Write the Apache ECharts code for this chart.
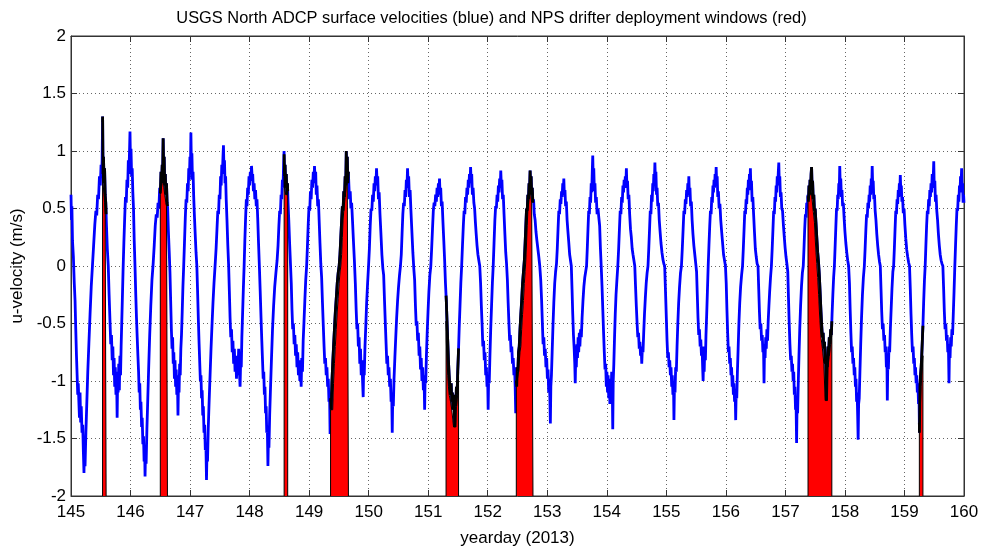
<!DOCTYPE html>
<html>
<head>
<meta charset="utf-8">
<script src="https://cdn.jsdelivr.net/npm/echarts@6/dist/echarts.min.js"></script>
<style>
html,body{margin:0;padding:0;background:#fff;}
#chart{width:983px;height:552px;}
</style>
</head>
<body>
<div id="chart"></div>
<script>
// ---- data ----
const titleText = 'USGS North ADCP surface velocities (blue) and NPS drifter deployment windows (red)';
const xName = 'yearday (2013)';
const yName = 'u-velocity (m/s)';
const xTickValues = [145,146,147,148,149,150,151,152,153,154,155,156,157,158,159,160];
const yTickValues = [-2,-1.5,-1,-0.5,0,0.5,1,1.5,2];

// drifter deployment windows [start, end] (yearday)
const deployWindows = [
  [145.53,145.59],[146.50,146.62],[148.58,148.64],[149.36,149.66],
  [151.30,151.51],[152.48,152.76],[157.38,157.78],[159.25,159.31]
];

// ADCP surface u-velocity: [yearday, m/s]
const adcpU = [
[145.000,0.62],[145.008,0.40],[145.015,0.52],[145.025,0.22],[145.040,0.08],[145.055,-0.15],[145.068,-0.30],[145.080,-0.55],
[145.092,-0.78],[145.103,-0.95],[145.113,-1.12],[145.122,-1.02],[145.132,-1.18],[145.142,-1.32],[145.152,-1.10],[145.162,-1.36],
[145.172,-1.22],[145.185,-1.45],[145.197,-1.38],[145.208,-1.62],[145.218,-1.80],[145.226,-1.58],[145.236,-1.74],[145.250,-1.45],
[145.265,-1.20],[145.282,-0.92],[145.300,-0.68],[145.320,-0.42],[145.340,-0.18],[145.360,0.00],[145.380,0.18],[145.400,0.36],
[145.418,0.48],[145.432,0.44],[145.448,0.62],[145.462,0.58],[145.478,0.78],[145.492,0.70],[145.505,0.88],[145.515,0.78],
[145.523,0.92],[145.531,1.30],[145.538,0.80],[145.546,0.95],[145.555,0.72],[145.564,0.85],[145.574,0.62],[145.584,0.55],
[145.596,0.35],[145.610,0.15],[145.626,0.00],[145.640,-0.25],[145.655,-0.48],[145.668,-0.68],[145.680,-0.60],[145.692,-0.82],
[145.703,-0.70],[145.714,-0.95],[145.724,-0.80],[145.734,-1.05],[145.744,-0.88],[145.755,-1.12],[145.765,-0.92],[145.775,-1.32],
[145.783,-1.00],[145.792,-1.10],[145.802,-0.85],[145.812,-1.08],[145.822,-0.78],[145.832,-0.95],[145.842,-0.70],[145.852,-0.50],
[145.862,-0.30],[145.874,-0.05],[145.888,0.20],[145.902,0.42],[145.915,0.60],[145.928,0.55],[145.940,0.75],[145.952,0.68],
[145.963,0.92],[145.973,0.80],[145.983,1.00],[145.991,1.17],[145.999,0.90],[146.008,1.02],[146.018,0.78],[146.028,0.85],
[146.038,0.65],[146.050,0.50],[146.062,0.22],[146.075,0.00],[146.088,-0.25],[146.100,-0.45],[146.112,-0.62],[146.124,-0.78],
[146.135,-0.92],[146.145,-1.10],[146.155,-1.02],[146.165,-1.25],[146.175,-1.18],[146.186,-1.40],[146.196,-1.32],[146.207,-1.55],
[146.218,-1.48],[146.228,-1.70],[146.238,-1.62],[146.244,-1.83],[146.252,-1.60],[146.262,-1.72],[146.275,-1.42],[146.290,-1.15],
[146.305,-0.88],[146.322,-0.60],[146.340,-0.35],[146.360,-0.12],[146.380,0.02],[146.398,0.18],[146.415,0.35],[146.432,0.45],
[146.448,0.42],[146.462,0.55],[146.476,0.50],[146.490,0.68],[146.502,0.62],[146.512,0.82],[146.522,0.72],[146.532,0.88],
[146.540,0.80],[146.548,1.11],[146.556,0.85],[146.565,0.95],[146.574,0.70],[146.584,0.80],[146.594,0.62],[146.604,0.72],
[146.614,0.55],[146.624,0.50],[146.636,0.30],[146.650,0.12],[146.662,-0.05],[146.674,-0.30],[146.686,-0.55],[146.697,-0.72],
[146.707,-0.62],[146.717,-0.85],[146.727,-0.75],[146.737,-0.98],[146.747,-0.82],[146.757,-1.05],[146.767,-0.90],[146.777,-1.12],
[146.787,-0.95],[146.797,-1.30],[146.805,-1.02],[146.815,-1.10],[146.825,-0.85],[146.835,-0.95],[146.845,-0.72],[146.856,-0.60],
[146.868,-0.40],[146.880,-0.18],[146.893,0.00],[146.906,0.20],[146.920,0.42],[146.933,0.58],[146.945,0.55],[146.957,0.72],
[146.968,0.65],[146.978,0.85],[146.988,0.75],[146.998,0.95],[147.006,0.82],[147.014,1.16],[147.022,0.88],[147.031,0.98],
[147.040,0.75],[147.050,0.82],[147.060,0.62],[147.072,0.45],[147.086,0.28],[147.100,0.12],[147.114,0.00],[147.128,-0.25],
[147.140,-0.48],[147.152,-0.68],[147.163,-0.85],[147.173,-1.00],[147.183,-0.95],[147.193,-1.15],[147.203,-1.08],[147.213,-1.30],
[147.223,-1.22],[147.234,-1.45],[147.245,-1.38],[147.256,-1.60],[147.266,-1.55],[147.276,-1.86],[147.284,-1.62],[147.293,-1.70],
[147.305,-1.42],[147.320,-1.18],[147.336,-0.95],[147.352,-0.72],[147.368,-0.52],[147.385,-0.32],[147.402,-0.15],[147.420,0.00],
[147.437,0.15],[147.452,0.32],[147.466,0.48],[147.478,0.45],[147.490,0.62],[147.502,0.58],[147.513,0.78],[147.523,0.70],
[147.533,0.88],[147.543,0.80],[147.553,0.95],[147.561,1.05],[147.569,0.85],[147.578,0.92],[147.587,0.72],[147.597,0.78],
[147.607,0.58],[147.620,0.40],[147.634,0.18],[147.648,0.00],[147.660,-0.22],[147.672,-0.45],[147.684,-0.62],[147.696,-0.55],
[147.708,-0.75],[147.720,-0.65],[147.732,-0.85],[147.744,-0.72],[147.756,-0.92],[147.768,-0.80],[147.780,-0.98],[147.792,-0.78],
[147.804,-0.95],[147.816,-0.72],[147.828,-0.90],[147.840,-1.05],[147.850,-0.82],[147.860,-0.88],[147.870,-0.62],[147.882,-0.42],
[147.895,-0.20],[147.908,0.00],[147.920,0.22],[147.933,0.42],[147.945,0.58],[147.956,0.52],[147.967,0.68],[147.978,0.62],
[147.990,0.78],[148.000,0.70],[148.012,0.82],[148.022,0.74],[148.032,0.87],[148.042,0.78],[148.052,0.80],[148.064,0.65],
[148.076,0.72],[148.088,0.58],[148.100,0.66],[148.112,0.52],[148.124,0.58],[148.136,0.42],[148.150,0.20],[148.164,0.00],
[148.178,-0.22],[148.192,-0.45],[148.205,-0.65],[148.217,-0.82],[148.228,-0.98],[148.238,-0.92],[148.248,-1.12],[148.258,-1.05],
[148.268,-1.28],[148.278,-1.22],[148.288,-1.45],[148.298,-1.40],[148.308,-1.74],[148.316,-1.50],[148.325,-1.58],[148.337,-1.30],
[148.352,-1.05],[148.368,-0.80],[148.385,-0.55],[148.403,-0.35],[148.422,-0.18],[148.442,-0.06],[148.462,0.05],[148.478,0.18],
[148.492,0.35],[148.505,0.48],[148.517,0.45],[148.529,0.62],[148.540,0.58],[148.551,0.75],[148.561,0.68],[148.571,0.88],
[148.579,1.00],[148.587,0.78],[148.596,0.88],[148.606,0.68],[148.616,0.80],[148.626,0.62],[148.636,0.72],[148.646,0.55],
[148.658,0.40],[148.672,0.20],[148.688,0.00],[148.700,-0.15],[148.712,-0.38],[148.724,-0.55],[148.736,-0.50],[148.748,-0.68],
[148.760,-0.60],[148.772,-0.78],[148.784,-0.68],[148.796,-0.88],[148.808,-0.75],[148.820,-0.95],[148.832,-0.82],[148.844,-1.00],
[148.856,-0.85],[148.866,-1.05],[148.876,-0.80],[148.888,-0.92],[148.900,-0.65],[148.914,-0.48],[148.928,-0.30],[148.943,-0.12],
[148.958,0.00],[148.972,0.18],[148.986,0.38],[148.998,0.52],[149.010,0.48],[149.022,0.65],[149.034,0.58],[149.046,0.75],
[149.058,0.68],[149.070,0.82],[149.080,0.72],[149.090,0.87],[149.100,0.76],[149.110,0.82],[149.120,0.62],[149.132,0.70],
[149.144,0.52],[149.156,0.58],[149.168,0.40],[149.182,0.20],[149.196,0.02],[149.210,-0.10],[149.224,-0.32],[149.238,-0.52],
[149.251,-0.70],[149.263,-0.85],[149.275,-0.80],[149.287,-0.95],[149.299,-0.88],[149.311,-1.05],[149.322,-0.98],[149.333,-1.18],
[149.343,-1.10],[149.352,-1.46],[149.360,-1.15],[149.370,-1.25],[149.382,-1.02],[149.396,-0.85],[149.410,-0.70],[149.425,-0.55],
[149.440,-0.40],[149.456,-0.28],[149.472,-0.15],[149.488,-0.06],[149.504,0.00],[149.518,0.10],[149.532,0.25],[149.546,0.40],
[149.558,0.52],[149.570,0.48],[149.582,0.65],[149.594,0.60],[149.605,0.78],[149.615,0.70],[149.624,1.00],[149.632,0.80],
[149.641,0.95],[149.650,0.72],[149.659,0.82],[149.668,0.70],[149.678,0.58],[149.690,0.65],[149.702,0.50],[149.714,0.55],
[149.728,0.40],[149.744,0.22],[149.760,0.05],[149.776,-0.15],[149.790,-0.38],[149.803,-0.55],[149.815,-0.50],[149.827,-0.70],
[149.839,-0.62],[149.851,-0.85],[149.863,-0.72],[149.875,-0.95],[149.887,-0.82],[149.899,-1.02],[149.908,-1.14],[149.916,-0.88],
[149.926,-0.95],[149.938,-0.70],[149.952,-0.52],[149.966,-0.32],[149.982,-0.15],[149.998,0.00],[150.012,0.15],[150.026,0.35],
[150.040,0.50],[150.053,0.48],[150.066,0.62],[150.078,0.56],[150.090,0.72],[150.101,0.65],[150.112,0.78],[150.122,0.70],
[150.132,0.85],[150.142,0.72],[150.152,0.78],[150.164,0.58],[150.176,0.64],[150.190,0.45],[150.206,0.28],[150.222,0.10],
[150.238,-0.02],[150.252,-0.08],[150.266,-0.30],[150.280,-0.50],[150.293,-0.68],[150.305,-0.85],[150.317,-0.78],[150.329,-0.95],
[150.341,-0.88],[150.353,-1.05],[150.365,-0.98],[150.377,-1.18],[150.387,-1.10],[150.396,-1.45],[150.404,-1.15],[150.414,-1.22],
[150.426,-0.98],[150.440,-0.80],[150.455,-0.62],[150.470,-0.45],[150.486,-0.30],[150.502,-0.18],[150.518,-0.08],[150.534,0.00],
[150.548,0.10],[150.561,0.28],[150.574,0.45],[150.587,0.55],[150.599,0.52],[150.611,0.66],[150.622,0.60],[150.633,0.75],
[150.643,0.68],[150.653,0.85],[150.662,0.72],[150.672,0.78],[150.684,0.60],[150.696,0.66],[150.710,0.48],[150.726,0.30],
[150.742,0.12],[150.758,-0.02],[150.772,-0.12],[150.786,-0.35],[150.799,-0.52],[150.811,-0.48],[150.823,-0.65],[150.835,-0.58],
[150.847,-0.78],[150.859,-0.70],[150.871,-0.90],[150.883,-0.80],[150.895,-1.00],[150.907,-0.88],[150.919,-1.08],[150.930,-0.95],
[150.940,-1.25],[150.948,-0.98],[150.958,-1.02],[150.970,-0.78],[150.983,-0.58],[150.997,-0.40],[151.012,-0.22],[151.028,-0.08],
[151.044,0.00],[151.058,0.15],[151.072,0.32],[151.086,0.48],[151.099,0.55],[151.112,0.52],[151.125,0.62],[151.137,0.56],
[151.149,0.68],[151.160,0.60],[151.171,0.72],[151.181,0.65],[151.190,0.76],[151.199,0.62],[151.210,0.68],[151.222,0.52],
[151.234,0.56],[151.248,0.38],[151.262,0.22],[151.276,0.05],[151.290,-0.15],[151.304,-0.30],[151.316,-0.48],[151.328,-0.65],
[151.340,-0.82],[151.352,-0.95],[151.364,-1.05],[151.375,-1.12],[151.386,-1.02],[151.396,-1.18],[151.406,-1.10],[151.416,-1.25],
[151.426,-1.12],[151.436,-1.20],[151.446,-1.40],[151.454,-1.15],[151.464,-1.22],[151.474,-1.05],[151.485,-1.12],[151.496,-0.92],
[151.508,-0.75],[151.520,-0.55],[151.534,-0.35],[151.548,-0.15],[151.562,0.00],[151.576,0.18],[151.590,0.35],[151.603,0.48],
[151.615,0.45],[151.627,0.60],[151.639,0.55],[151.651,0.68],[151.662,0.62],[151.673,0.75],[151.683,0.68],[151.693,0.80],
[151.702,0.72],[151.712,0.86],[151.721,0.74],[151.731,0.80],[151.742,0.62],[151.754,0.68],[151.767,0.55],[151.780,0.50],
[151.793,0.38],[151.806,0.28],[151.820,0.18],[151.835,0.10],[151.850,0.05],[151.866,0.00],[151.880,-0.15],[151.893,-0.35],
[151.906,-0.52],[151.918,-0.70],[151.930,-0.65],[151.942,-0.82],[151.954,-0.75],[151.966,-0.95],[151.977,-0.88],[151.988,-1.05],
[151.998,-0.95],[152.007,-1.25],[152.015,-0.98],[152.025,-1.02],[152.037,-0.78],[152.050,-0.55],[152.064,-0.35],[152.078,-0.15],
[152.092,0.00],[152.106,0.20],[152.120,0.40],[152.133,0.52],[152.145,0.50],[152.157,0.62],[152.168,0.56],[152.179,0.70],
[152.190,0.64],[152.200,0.76],[152.210,0.68],[152.219,0.83],[152.228,0.70],[152.238,0.75],[152.249,0.58],[152.261,0.62],
[152.274,0.45],[152.288,0.28],[152.302,0.12],[152.316,0.02],[152.330,-0.12],[152.343,-0.32],[152.356,-0.50],[152.368,-0.65],
[152.380,-0.60],[152.392,-0.75],[152.404,-0.70],[152.416,-0.85],[152.428,-0.80],[152.440,-0.95],[152.451,-0.88],[152.461,-1.05],
[152.470,-1.28],[152.478,-0.98],[152.487,-1.05],[152.496,-0.88],[152.506,-0.92],[152.517,-0.75],[152.529,-0.70],[152.542,-0.55],
[152.556,-0.42],[152.570,-0.30],[152.585,-0.15],[152.600,-0.05],[152.615,0.05],[152.628,0.20],[152.640,0.35],[152.652,0.50],
[152.663,0.48],[152.674,0.62],[152.684,0.58],[152.694,0.72],[152.703,0.66],[152.712,0.83],[152.720,0.70],[152.729,0.78],
[152.738,0.62],[152.748,0.68],[152.758,0.55],[152.770,0.58],[152.782,0.45],[152.796,0.40],[152.810,0.30],[152.826,0.22],
[152.842,0.15],[152.858,0.08],[152.874,0.00],[152.890,-0.12],[152.905,-0.30],[152.918,-0.50],[152.930,-0.68],[152.942,-0.62],
[152.954,-0.78],[152.966,-0.72],[152.978,-0.88],[152.990,-0.80],[153.002,-0.98],[153.013,-0.90],[153.024,-1.10],[153.034,-0.98],
[153.044,-1.15],[153.052,-1.37],[153.060,-1.05],[153.070,-0.95],[153.082,-0.75],[153.096,-0.52],[153.110,-0.32],[153.125,-0.15],
[153.140,-0.05],[153.155,0.02],[153.168,0.15],[153.181,0.32],[153.194,0.48],[153.206,0.45],[153.218,0.58],[153.229,0.54],
[153.240,0.65],[153.250,0.60],[153.260,0.72],[153.269,0.65],[153.278,0.76],[153.287,0.62],[153.297,0.66],[153.308,0.52],
[153.320,0.56],[153.333,0.40],[153.347,0.30],[153.362,0.20],[153.376,0.10],[153.390,0.05],[153.404,0.00],[153.416,-0.20],
[153.428,-0.42],[153.440,-0.60],[153.452,-0.72],[153.462,-0.85],[153.470,-1.02],[153.478,-0.78],[153.488,-0.88],[153.498,-0.68],
[153.508,-0.80],[153.518,-0.62],[153.528,-0.75],[153.538,-0.58],[153.548,-0.70],[153.560,-0.55],[153.572,-0.62],[153.585,-0.45],
[153.600,-0.30],[153.615,-0.18],[153.630,-0.10],[153.645,-0.05],[153.660,0.00],[153.672,0.15],[153.684,0.32],[153.696,0.48],
[153.707,0.45],[153.718,0.60],[153.728,0.55],[153.738,0.72],[153.747,0.64],[153.756,0.82],[153.764,0.96],[153.772,0.75],
[153.781,0.85],[153.791,0.65],[153.801,0.72],[153.812,0.55],[153.824,0.60],[153.837,0.45],[153.852,0.50],[153.866,0.42],
[153.880,0.35],[153.893,0.15],[153.906,0.00],[153.920,-0.18],[153.933,-0.38],[153.946,-0.58],[153.958,-0.75],[153.970,-0.90],
[153.981,-0.85],[153.992,-1.05],[154.002,-0.92],[154.012,-1.10],[154.022,-0.95],[154.032,-1.15],[154.042,-0.98],[154.052,-1.20],
[154.062,-1.02],[154.072,-1.12],[154.082,-0.92],[154.092,-1.05],[154.100,-1.42],[154.108,-1.00],[154.118,-0.85],[154.130,-0.62],
[154.142,-0.42],[154.155,-0.25],[154.170,-0.12],[154.185,0.00],[154.199,0.15],[154.212,0.32],[154.225,0.48],[154.237,0.45],
[154.249,0.60],[154.260,0.55],[154.271,0.70],[154.281,0.64],[154.291,0.75],[154.301,0.68],[154.311,0.78],[154.320,0.70],
[154.329,0.85],[154.338,0.68],[154.348,0.74],[154.359,0.58],[154.371,0.62],[154.384,0.45],[154.398,0.32],[154.412,0.25],
[154.426,0.15],[154.440,0.10],[154.455,0.05],[154.470,0.00],[154.483,-0.18],[154.496,-0.35],[154.509,-0.50],[154.521,-0.62],
[154.533,-0.58],[154.545,-0.72],[154.556,-0.66],[154.567,-0.78],[154.577,-0.70],[154.587,-0.85],[154.597,-0.72],[154.608,-0.75],
[154.620,-0.58],[154.633,-0.42],[154.647,-0.28],[154.662,-0.15],[154.677,-0.06],[154.692,0.00],[154.705,0.15],[154.718,0.32],
[154.730,0.48],[154.741,0.45],[154.752,0.62],[154.762,0.56],[154.772,0.72],[154.781,0.65],[154.790,0.80],[154.799,0.72],
[154.808,0.90],[154.816,0.75],[154.825,0.82],[154.835,0.62],[154.845,0.68],[154.856,0.52],[154.868,0.55],[154.881,0.40],
[154.895,0.30],[154.910,0.20],[154.926,0.12],[154.942,0.06],[154.958,0.02],[154.972,0.00],[154.986,-0.22],[155.000,-0.45],
[155.012,-0.65],[155.024,-0.80],[155.035,-0.75],[155.046,-0.88],[155.057,-0.82],[155.068,-0.95],[155.079,-0.88],[155.090,-1.05],
[155.100,-0.95],[155.110,-1.12],[155.120,-1.00],[155.128,-1.34],[155.136,-1.05],[155.146,-1.10],[155.157,-0.88],[155.168,-0.92],
[155.180,-0.70],[155.193,-0.50],[155.207,-0.32],[155.222,-0.18],[155.238,-0.06],[155.254,0.00],[155.268,0.15],[155.282,0.32],
[155.295,0.48],[155.307,0.45],[155.319,0.58],[155.330,0.54],[155.341,0.66],[155.351,0.60],[155.361,0.72],[155.370,0.64],
[155.378,0.78],[155.387,0.62],[155.397,0.68],[155.408,0.52],[155.420,0.56],[155.433,0.40],[155.447,0.28],[155.462,0.18],
[155.478,0.10],[155.494,0.02],[155.508,-0.05],[155.520,-0.25],[155.532,-0.45],[155.544,-0.60],[155.556,-0.55],[155.568,-0.70],
[155.579,-0.64],[155.590,-0.78],[155.600,-0.70],[155.610,-0.88],[155.618,-1.00],[155.626,-0.80],[155.636,-0.92],[155.646,-0.70],
[155.656,-0.82],[155.666,-0.60],[155.678,-0.42],[155.690,-0.22],[155.703,0.00],[155.716,0.18],[155.729,0.35],[155.741,0.48],
[155.752,0.45],[155.763,0.60],[155.773,0.55],[155.783,0.70],[155.792,0.64],[155.801,0.75],[155.810,0.68],[155.819,0.80],
[155.828,0.70],[155.837,0.86],[155.845,0.72],[155.854,0.78],[155.864,0.60],[155.875,0.65],[155.887,0.50],[155.900,0.54],
[155.914,0.40],[155.929,0.30],[155.945,0.20],[155.961,0.10],[155.977,0.05],[155.993,0.00],[156.006,-0.15],[156.018,-0.38],
[156.030,-0.58],[156.042,-0.75],[156.053,-0.70],[156.064,-0.85],[156.075,-0.80],[156.086,-0.95],[156.096,-0.88],[156.106,-1.05],
[156.116,-0.95],[156.126,-1.12],[156.136,-1.02],[156.146,-1.18],[156.156,-1.08],[156.165,-1.34],[156.173,-1.10],[156.183,-1.15],
[156.194,-0.92],[156.206,-0.72],[156.219,-0.50],[156.233,-0.32],[156.248,-0.18],[156.264,-0.08],[156.280,0.00],[156.293,0.15],
[156.306,0.32],[156.318,0.48],[156.329,0.45],[156.340,0.58],[156.350,0.54],[156.360,0.68],[156.369,0.62],[156.378,0.75],
[156.387,0.66],[156.396,0.80],[156.404,0.70],[156.412,0.85],[156.420,0.68],[156.430,0.74],[156.441,0.56],[156.453,0.60],
[156.466,0.45],[156.480,0.30],[156.495,0.15],[156.510,0.08],[156.525,0.02],[156.540,0.00],[156.552,-0.20],[156.564,-0.40],
[156.576,-0.55],[156.588,-0.50],[156.600,-0.65],[156.611,-0.60],[156.622,-0.75],[156.632,-0.68],[156.641,-1.02],[156.649,-0.72],
[156.659,-0.80],[156.669,-0.62],[156.679,-0.72],[156.689,-0.55],[156.700,-0.65],[156.711,-0.48],[156.723,-0.35],[156.736,-0.22],
[156.750,-0.10],[156.765,0.00],[156.778,0.15],[156.791,0.32],[156.803,0.48],[156.814,0.45],[156.825,0.60],[156.835,0.56],
[156.845,0.70],[156.854,0.64],[156.863,0.78],[156.872,0.70],[156.881,0.82],[156.889,0.90],[156.897,0.72],[156.906,0.78],
[156.916,0.60],[156.927,0.64],[156.939,0.50],[156.952,0.48],[156.966,0.36],[156.980,0.26],[156.995,0.16],[157.010,0.08],
[157.025,0.02],[157.040,-0.05],[157.052,-0.28],[157.064,-0.50],[157.076,-0.68],[157.088,-0.82],[157.099,-0.78],[157.110,-0.92],
[157.120,-0.85],[157.130,-1.00],[157.140,-0.92],[157.150,-1.12],[157.160,-1.05],[157.170,-1.25],[157.179,-1.18],[157.188,-1.54],
[157.196,-1.20],[157.205,-1.28],[157.216,-1.02],[157.228,-0.78],[157.241,-0.55],[157.255,-0.35],[157.270,-0.18],[157.285,-0.06],
[157.300,0.00],[157.312,0.15],[157.324,0.32],[157.336,0.45],[157.347,0.42],[157.358,0.55],[157.368,0.50],[157.378,0.62],
[157.387,0.56],[157.396,0.70],[157.405,0.62],[157.414,0.75],[157.423,0.66],[157.432,0.80],[157.440,0.86],[157.448,0.68],
[157.457,0.74],[157.467,0.58],[157.477,0.62],[157.488,0.48],[157.500,0.50],[157.513,0.38],[157.527,0.25],[157.542,0.12],
[157.558,0.02],[157.572,-0.10],[157.585,-0.25],[157.598,-0.40],[157.610,-0.52],[157.622,-0.62],[157.634,-0.58],[157.646,-0.72],
[157.657,-0.66],[157.668,-0.85],[157.678,-0.78],[157.688,-1.17],[157.696,-0.82],[157.706,-0.88],[157.716,-0.70],[157.726,-0.78],
[157.737,-0.62],[157.748,-0.68],[157.760,-0.55],[157.772,-0.60],[157.784,-0.42],[157.797,-0.25],[157.810,-0.10],[157.823,0.00],
[157.836,0.18],[157.848,0.35],[157.859,0.50],[157.869,0.48],[157.879,0.62],[157.888,0.58],[157.897,0.72],[157.905,0.66],
[157.913,0.87],[157.921,0.70],[157.930,0.76],[157.940,0.60],[157.950,0.66],[157.961,0.52],[157.973,0.55],[157.986,0.42],
[158.000,0.30],[158.015,0.20],[158.030,0.12],[158.046,0.05],[158.062,0.00],[158.076,-0.15],[158.088,-0.38],[158.100,-0.58],
[158.112,-0.75],[158.123,-0.70],[158.134,-0.85],[158.145,-0.80],[158.156,-0.95],[158.166,-0.88],[158.176,-1.05],[158.186,-0.98],
[158.196,-1.18],[158.205,-1.10],[158.214,-1.30],[158.222,-1.51],[158.230,-1.20],[158.240,-1.15],[158.252,-0.92],[158.265,-0.68],
[158.279,-0.45],[158.294,-0.25],[158.310,-0.10],[158.326,0.00],[158.339,0.15],[158.352,0.32],[158.364,0.45],[158.375,0.42],
[158.386,0.55],[158.396,0.50],[158.406,0.62],[158.415,0.56],[158.424,0.70],[158.433,0.62],[158.442,0.76],[158.450,0.68],
[158.458,0.87],[158.466,0.70],[158.475,0.74],[158.485,0.58],[158.496,0.62],[158.508,0.48],[158.521,0.40],[158.535,0.28],
[158.550,0.18],[158.565,0.10],[158.580,0.04],[158.594,0.00],[158.606,-0.20],[158.618,-0.40],[158.630,-0.55],[158.642,-0.50],
[158.654,-0.65],[158.665,-0.60],[158.676,-0.75],[158.686,-0.70],[158.696,-0.88],[158.705,-0.80],[158.712,-1.17],[158.720,-0.85],
[158.730,-0.90],[158.740,-0.70],[158.751,-0.75],[158.763,-0.55],[158.776,-0.38],[158.790,-0.20],[158.805,-0.05],[158.818,0.00],
[158.830,0.15],[158.842,0.32],[158.854,0.48],[158.865,0.45],[158.876,0.58],[158.886,0.54],[158.896,0.66],[158.905,0.60],
[158.914,0.72],[158.922,0.65],[158.930,0.79],[158.938,0.66],[158.947,0.70],[158.957,0.56],[158.968,0.60],[158.980,0.46],
[158.993,0.50],[159.007,0.36],[159.022,0.24],[159.038,0.14],[159.054,0.08],[159.070,0.03],[159.085,0.00],[159.098,-0.20],
[159.110,-0.42],[159.122,-0.60],[159.134,-0.75],[159.145,-0.70],[159.156,-0.85],[159.166,-0.80],[159.176,-0.95],[159.186,-0.88],
[159.196,-1.02],[159.206,-0.95],[159.216,-1.10],[159.226,-1.02],[159.236,-1.20],[159.244,-1.10],[159.252,-1.45],[159.260,-1.05],
[159.270,-0.95],[159.280,-0.88],[159.290,-0.78],[159.300,-0.65],[159.310,-0.52],[159.322,-0.32],[159.336,-0.12],[159.348,0.00],
[159.360,0.18],[159.372,0.35],[159.384,0.48],[159.395,0.45],[159.406,0.58],[159.416,0.52],[159.426,0.66],[159.436,0.60],
[159.446,0.72],[159.456,0.64],[159.466,0.80],[159.475,0.70],[159.484,0.78],[159.492,0.91],[159.500,0.68],[159.510,0.74],
[159.520,0.56],[159.531,0.62],[159.543,0.48],[159.556,0.40],[159.570,0.28],[159.585,0.18],[159.600,0.10],[159.615,0.05],
[159.630,0.02],[159.645,0.00],[159.658,-0.20],[159.670,-0.40],[159.682,-0.55],[159.694,-0.50],[159.706,-0.65],[159.717,-0.60],
[159.728,-0.75],[159.738,-0.68],[159.748,-1.02],[159.756,-0.72],[159.766,-0.80],[159.776,-0.62],[159.786,-0.70],[159.797,-0.55],
[159.808,-0.60],[159.820,-0.42],[159.833,-0.22],[159.846,0.00],[159.858,0.18],[159.870,0.35],[159.882,0.50],[159.893,0.48],
[159.904,0.62],[159.914,0.56],[159.924,0.70],[159.933,0.64],[159.942,0.78],[159.951,0.70],[159.960,0.85],[159.968,0.66],
[159.976,0.72],[159.985,0.55],[159.993,0.62],[160.000,0.55]
];

// ---- helpers: clip the curve to a window (for drawing only) ----
function valueAt(t){
  for(let i=1;i<adcpU.length;i++){
    if(adcpU[i][0]>=t){
      const a=adcpU[i-1], b=adcpU[i];
      const f=(t-a[0])/(b[0]-a[0]);
      return a[1]+f*(b[1]-a[1]);
    }
  }
  return adcpU[adcpU.length-1][1];
}
function clipCurve(a,b){
  const pts=[[a,valueAt(a)]];
  adcpU.forEach(p=>{ if(p[0]>a && p[0]<b) pts.push([p[0],p[1]]); });
  pts.push([b,valueAt(b)]);
  return pts;
}

const FONT = 'Liberation Sans, Arial, Helvetica, sans-serif';
const LW = 2.8;
const series = [{
  type:'line', data: adcpU, showSymbol:false, symbol:'none',
  lineStyle:{color:'#0000ff', width:LW}, z:2, silent:true
}];
deployWindows.forEach(w=>{
  const cur = clipCurve(w[0], w[1]);
  // lower envelope of the curve for the red fill
  const fillTop = cur.map((p,i)=>{
    let m=p[1];
    for(let k=Math.max(0,i-2);k<=Math.min(cur.length-1,i+2);k++) m=Math.min(m,cur[k][1]);
    return [p[0], m];
  });
  const poly = [[w[0],-2]].concat(fillTop).concat([[w[1],-2]]);
  series.push({
    type:'line', data: poly, showSymbol:false, symbol:'none', z:3, silent:true,
    lineStyle:{color:'#000', width:1},
    areaStyle:{color:'#ff0000', opacity:1, origin:'start'}
  });
  series.push({
    type:'line', data: cur, showSymbol:false, symbol:'none', z:4, silent:true,
    lineStyle:{color:'#000000', width:LW}
  });
});

const AXC = '#333';
const gridLine = {show:true, lineStyle:{color:'#666', width:1, type:[1,3]}};
const option = {
  animation:false,
  backgroundColor:'#ffffff',
  title:{
    text: titleText, left:'center', top:5,
    textStyle:{fontFamily:FONT, fontSize:16.4, fontWeight:'normal', color:'#000'}
  },
  grid:{left:71, right:19, top:36, bottom:52, show:true, borderColor:AXC, borderWidth:1, backgroundColor:'transparent'},
  xAxis:[{
    type:'value', min:xTickValues[0], max:xTickValues[xTickValues.length-1], interval:1,
    name:xName, nameLocation:'middle', nameGap:34,
    nameTextStyle:{fontFamily:FONT, fontSize:17, color:'#000'},
    axisLine:{show:true, onZero:false, lineStyle:{color:AXC}},
    axisTick:{show:true, inside:true, length:6, lineStyle:{color:AXC}},
    axisLabel:{fontFamily:FONT, fontSize:17, color:'#000', margin:8},
    splitLine:gridLine
  },{
    type:'value', position:'top', min:xTickValues[0], max:xTickValues[xTickValues.length-1], interval:1,
    axisLine:{show:true, onZero:false, lineStyle:{color:AXC}},
    axisTick:{show:true, inside:true, length:6, lineStyle:{color:AXC}},
    axisLabel:{show:false}, splitLine:{show:false}
  }],
  yAxis:[{
    type:'value', min:yTickValues[0], max:yTickValues[yTickValues.length-1], interval:0.5,
    name:yName, nameLocation:'middle', nameGap:39, nameRotate:90,
    nameTextStyle:{fontFamily:FONT, fontSize:17, color:'#000'},
    axisLine:{show:true, onZero:false, lineStyle:{color:AXC}},
    axisTick:{show:true, inside:true, length:6, lineStyle:{color:AXC}},
    axisLabel:{fontFamily:FONT, fontSize:17, color:'#000', margin:5},
    splitLine:gridLine
  },{
    type:'value', position:'right', min:yTickValues[0], max:yTickValues[yTickValues.length-1], interval:0.5,
    axisLine:{show:true, onZero:false, lineStyle:{color:AXC}},
    axisTick:{show:true, inside:true, length:6, lineStyle:{color:AXC}},
    axisLabel:{show:false}, splitLine:{show:false}
  }],
  series: series
};
const chart = echarts.init(document.getElementById('chart'), null, {renderer:'canvas'});
chart.setOption(option);
</script>
</body>
</html>
